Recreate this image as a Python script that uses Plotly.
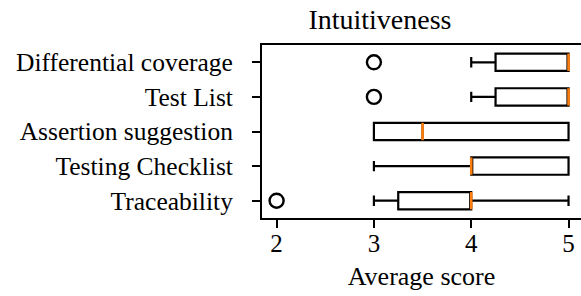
import plotly.graph_objects as go

categories = ["Traceability", "Testing Checklist", "Assertion suggestion", "Test List", "Differential coverage"]
lower_whisker = [3, 3, 3, 4, 4]
q1 = [3.25, 4, 3, 4.25, 4.25]
median = [4, 4, 3.5, 5, 5]
q3 = [4, 5, 5, 5, 5]
upper_whisker = [5, 5, 5, 5, 5]
outliers = [[2], [], [], [3], [3]]

FONT = "Liberation Serif"
positions = list(range(1, len(categories) + 1))

fig = go.Figure()
for i, cat in enumerate(categories):
    pos = positions[i]
    fig.add_trace(go.Box(
        y=[pos], q1=[q1[i]], median=[median[i]], q3=[q3[i]],
        lowerfence=[lower_whisker[i]], upperfence=[upper_whisker[i]],
        orientation="h", width=0.5, whiskerwidth=0.6,
        line=dict(color="black", width=2.2), fillcolor="rgba(0,0,0,0)",
        boxpoints=False, showlegend=False, hoverinfo="skip",
    ))
    fig.add_trace(go.Scatter(
        x=[median[i], median[i]], y=[pos - 0.25, pos + 0.25], mode="lines",
        line=dict(color="#ff7f0e", width=2.6), showlegend=False, hoverinfo="skip",
    ))
    if outliers[i]:
        fig.add_trace(go.Scatter(
            x=outliers[i], y=[pos] * len(outliers[i]), mode="markers",
            marker=dict(symbol="circle-open", size=14, color="black", line=dict(width=2.4)),
            showlegend=False, hoverinfo="skip",
        ))

fig.update_layout(
    width=581, height=296,
    margin=dict(l=262, r=0, t=45, b=78),
    plot_bgcolor="white", paper_bgcolor="white",
    font=dict(family=FONT, size=25, color="black"),
    title=dict(text="Intuitiveness", x=0.654, xanchor="center", y=0.935, yanchor="middle",
               font=dict(family=FONT, size=28, color="black")),
)
fig.update_xaxes(
    range=[1.85, 5.128], tickvals=[2, 3, 4, 5], showgrid=False, zeroline=False,
    showline=True, linecolor="black", linewidth=2, mirror=True,
    ticks="outside", ticklen=8, tickwidth=2, tickcolor="black",
    title=dict(text="Average score", standoff=11, font=dict(family=FONT, size=26)),
    tickfont=dict(family=FONT, size=25), ticklabelstandoff=-6,
)
fig.update_yaxes(
    range=[0.5, 5.5], tickvals=positions, ticktext=categories, showgrid=False, zeroline=False,
    showline=True, linecolor="black", linewidth=2, mirror=False,
    ticks="outside", ticklen=8, tickwidth=2, tickcolor="black",
    tickfont=dict(family=FONT, size=25.5), ticklabelstandoff=14,
)
fig.write_html("out.html", config={"displayModeBar": False})

with open("out.html", "r", encoding="utf-8") as f:
    html = f.read()
html = html.replace("<head>", "<head><style>html,body{margin:0;padding:0;overflow:hidden;}</style>", 1)
with open("out.html", "w", encoding="utf-8") as f:
    f.write(html)
